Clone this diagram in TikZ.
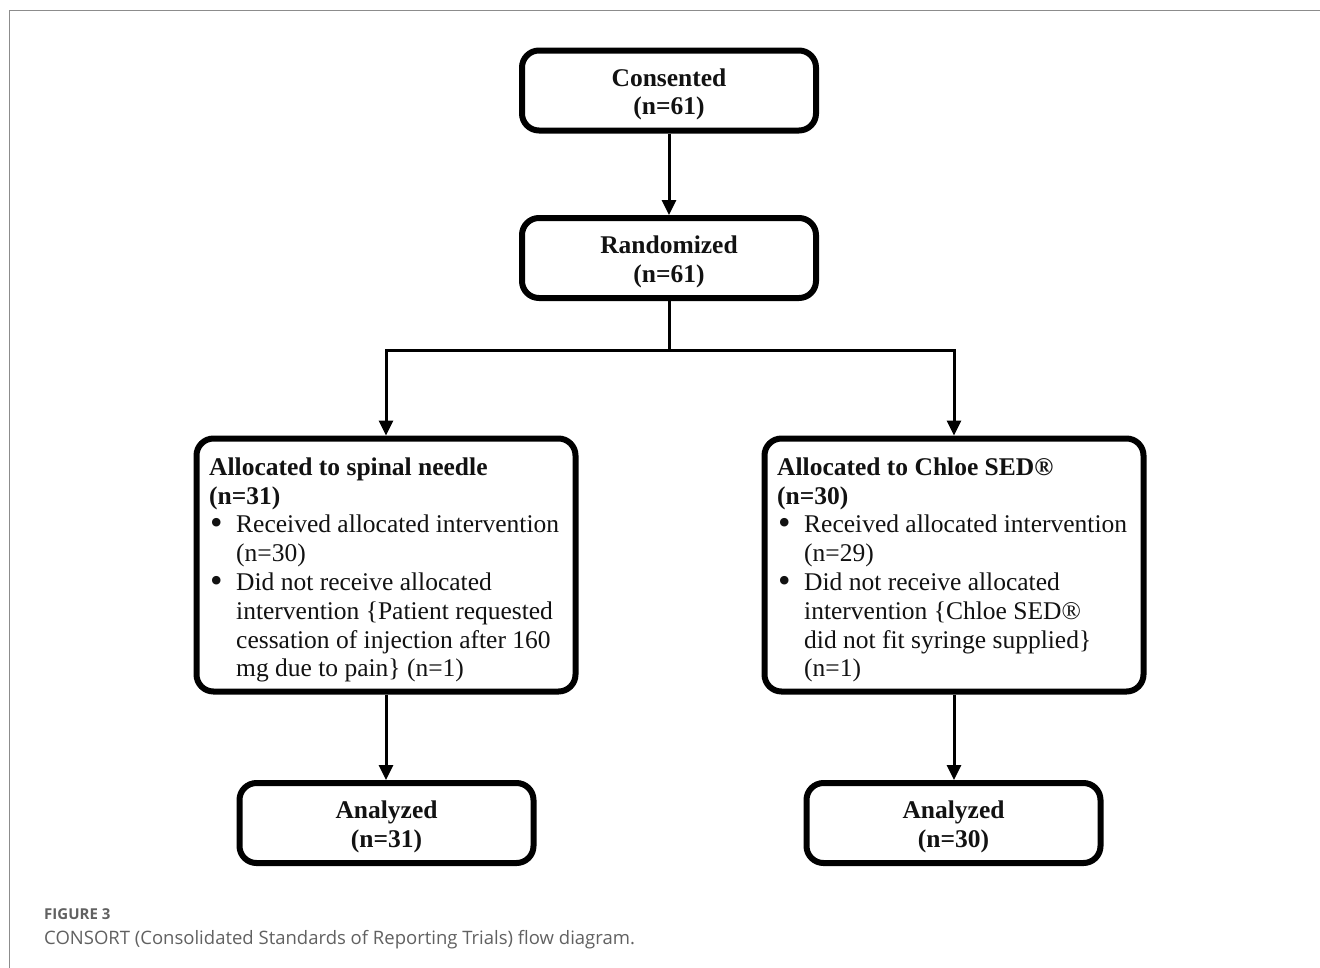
\documentclass[tikz,border=0pt]{standalone}
\usepackage{fontspec}
\usepackage{graphicx}
\setmainfont{Liberation Serif}
\newfontfamily\capfont{Open Sans}
\usetikzlibrary{arrows.meta}
\newcommand\bl{\makebox[27pt][l]{\hspace{1pt}\raisebox{-1.6pt}{\scalebox{1.4}{\textbullet}}}}
\newcommand\ind{\hspace*{27pt}}
\newcommand\tstrut{\rule{0pt}{25.5pt}}
\begin{document}
\begin{tikzpicture}[x=1pt,y=-1pt,
  box/.style={draw=black, line width=6pt, rounded corners=17pt, inner sep=0pt},
  smallbox/.style={box, minimum width=294pt, minimum height=80pt, align=center,
    font=\fontsize{25.5}{28.8}\selectfont\bfseries, text=black!93},
  bigbox/.style={box, minimum width=379pt, minimum height=253pt},
  txt/.style={anchor=west, align=left, inner sep=0pt, text=black!93,
    font=\fontsize{25.5}{28.8}\selectfont},
  arr/.style={line width=3pt, -{Triangle[length=15pt,width=14pt]}},
  ln/.style={line width=3pt},
  frame/.style={draw=black!45, line width=1.5pt},
  caphead/.style={anchor=base west, inner sep=0pt, text=black!62,
    font=\capfont\fontsize{15}{18}\selectfont\bfseries},
  captxt/.style={anchor=base west, inner sep=0pt, text=black!62,
    font=\capfont\fontsize{18.5}{22}\selectfont}]
\useasboundingbox (0,0) rectangle (1320,967);
\fill[white] (0,0) rectangle (1320,967);
\draw[frame] (1321,10.5) -- (9.5,10.5) -- (9.5,968);

\node[smallbox] (cons) at (669,90.5) {\tstrut Consented\\(n=61)};
\node[smallbox] (rand) at (669,258) {\tstrut Randomized\\(n=61)};

\node[bigbox] (left) at (386,565) {};
\node[bigbox] (right) at (954,565) {};

\node[txt, xshift=15.5pt, yshift=-5pt] (ltxt) at (left.west) {%
\textbf{Allocated to spinal needle}\\
\textbf{(n=31)}\\
\bl Received allocated intervention\\
\ind(n=30)\\
\bl Did not receive allocated\\
\ind intervention \{Patient requested\\
\ind cessation of injection after 160\\
\ind mg due to pain\} (n=1)};

\node[txt, xshift=15.5pt, yshift=-5pt] (rtxt) at (right.west) {%
\textbf{Allocated to Chloe SED®}\\
\textbf{(n=30)}\\
\bl Received allocated intervention\\
\ind(n=29)\\
\bl Did not receive allocated\\
\ind intervention \{Chloe SED®\\
\ind did not fit syringe supplied\}\\
\ind(n=1)};

\node[smallbox] (lan) at (386.5,823) {\tstrut Analyzed\\(n=31)};
\node[smallbox] (ran) at (953.5,823) {\tstrut Analyzed\\(n=30)};

\coordinate (split) at (669,350);
\draw[arr] (cons) -- (rand);
\draw[ln] (rand.south) -- (split);
\draw[arr] (split) -| (left.north);
\draw[arr] (split) -| (right.north);
\draw[arr] (left.south) -- (left.south |- lan.north);
\draw[arr] (right.south) -- (right.south |- ran.north);

\node[caphead] (fig) at (44,919) {FIGURE 3};
\node[captxt] (cap) at (44,944) {CONSORT (Consolidated Standards of Reporting Trials) flow diagram.};
\end{tikzpicture}
\end{document}
